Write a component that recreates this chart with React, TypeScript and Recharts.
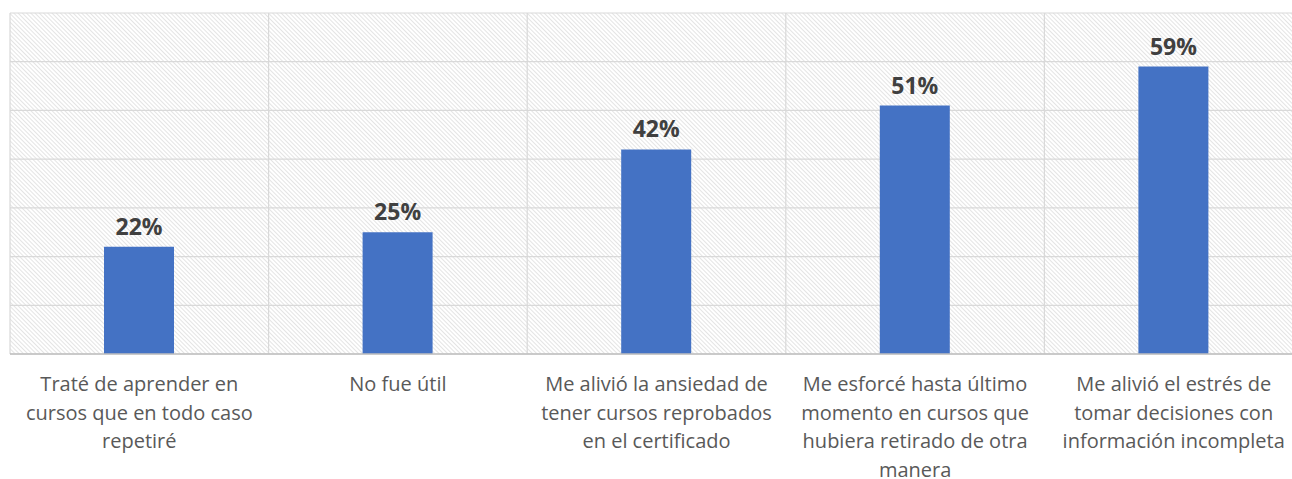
import React from "react";
import { BarChart, Bar, XAxis, YAxis, CartesianGrid, LabelList } from "recharts";

const categories = [
  "Traté de aprender en\ncursos que en todo caso\nrepetiré",
  "No fue útil",
  "Me alivió la ansiedad de\ntener cursos reprobados\nen el certificado",
  "Me esforcé hasta último\nmomento en cursos que\nhubiera retirado de otra\nmanera",
  "Me alivió el estrés de\ntomar decisiones con\ninformación incompleta",
];
const values = [0.22, 0.25, 0.42, 0.51, 0.59];
const yTicks = [0, 0.1, 0.2, 0.3, 0.4, 0.5, 0.6, 0.7];
const gridTicks = [0, 1, 2, 3, 4, 5];

const data = categories.map((c, i) => ({ name: c, value: values[i], idx: i + 0.5 }));

const FONT = "'Open Sans', sans-serif";

const Tick = (props: any) => {
  const { x, y, payload } = props;
  const lines = String(payload.value).split("\n");
  return (
    <text x={x} y={y} textAnchor="middle" fill="#595959" fontSize={20} fontFamily={FONT}>
      {lines.map((l, i) => (
        <tspan key={i} x={x} dy={i === 0 ? 29 : 28.5}>
          {l}
        </tspan>
      ))}
    </text>
  );
};

export default function App() {
  return (
    <div style={{ position: "absolute", left: 0, top: 0, width: 1292, height: 479, overflow: "hidden", background: "#fff" }}>
      <BarChart
        width={1310}
        height={479}
        data={data}
        margin={{ top: 13, right: 7, left: 10, bottom: 0 }}
        barSize={70}
      >
        <defs>
          <pattern id="hatch" patternUnits="userSpaceOnUse" width={3} height={3} patternTransform="rotate(-45)">
            <rect width={3} height={3} fill="#ffffff" />
            <line x1={0.5} y1={0} x2={0.5} y2={3} stroke="#e4e4e4" strokeWidth={1} />
          </pattern>
        </defs>
        <XAxis xAxisId="grid" type="number" dataKey="idx" domain={[0, 5]} ticks={gridTicks} hide />
        <XAxis
          xAxisId="cat"
          dataKey="name"
          type="category"
          interval={0}
          tickLine={false}
          axisLine={{ stroke: "#bfbfbf", strokeWidth: 1.5 }}
          tick={<Tick />}
          height={125}
        />
        <YAxis domain={[0, 0.7]} ticks={yTicks} hide width={0} />
        <CartesianGrid xAxisId="grid" stroke="#d9d9d9" strokeWidth={1.2} fill="url(#hatch)" fillOpacity={1} />
        <Bar xAxisId="cat" dataKey="value" fill="#4472C4" isAnimationActive={false}>
          <LabelList
            dataKey="value"
            position="top"
            offset={12}
            formatter={(v: any) => `${Math.round(v * 100)}%`}
            fill="#404040"
            fontSize={23}
            fontWeight={700}
            fontFamily={FONT}
          />
        </Bar>
      </BarChart>
    </div>
  );
}
